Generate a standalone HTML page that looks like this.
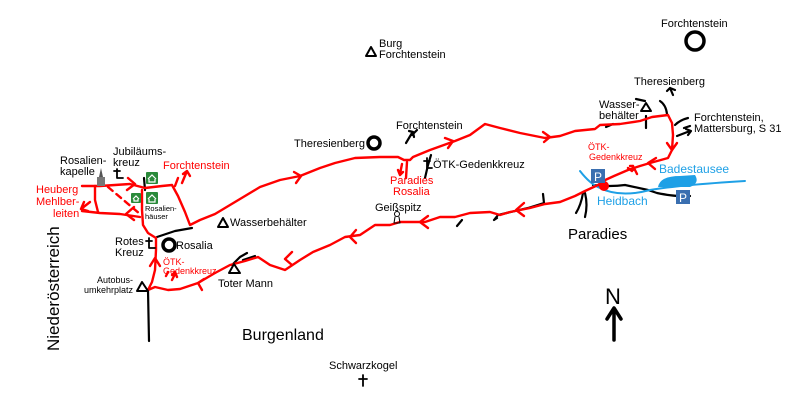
<!DOCTYPE html>
<html><head><meta charset="utf-8"><style>
body{margin:0;background:#fff}
svg{display:block}
text{font-family:"Liberation Sans",sans-serif;font-size:11px;fill:#000}
.r{fill:#f00}.b{fill:#1ea0e6}
</style></head><body>
<svg width="800" height="407" viewBox="0 0 800 407" xmlns="http://www.w3.org/2000/svg">
<g fill="none" stroke-linecap="round" stroke-linejoin="round">
<g stroke="#000" stroke-width="2.2">
<path d="M148 290 L149 341"/>
<path d="M157 237 L175 231 L192 228"/>
<path d="M144 178 L145 190"/>
<path d="M431 155 L428 165 L425 178"/>
<path d="M636 99 L645 101"/>
<path d="M660 101 Q666 105 667 114"/>
<path d="M646 116 L646 128"/>
<path d="M675 125 Q680 120 688 118"/>
<path d="M593 185 Q610 187 625 185 L648 190 L657 193 Q672 196 680 196 L690 196"/>
<path d="M583 193 Q581 205 576 213"/>
<path d="M585 193 Q588 205 585 217"/>
<path d="M543 194 L544 203 L528 208 L498 215 L494 220 L497 218"/>
<path d="M457 226 L462 220"/>
<path d="M232 265 L240 257 L247 253"/>
<path d="M243 260 L255 256"/>
<path d="M417 130 L412 135"/>
<path d="M684 128 L690 126"/>
</g>
<g stroke="#000" stroke-width="2.2">
<path d="M406 143 L412 133 M409 131 L413 132 L414 137"/>
<path d="M673 95 L670 88 L667 91 M670 88 L675 90"/>
<path d="M677 136 L690 131 M686 129 L691 131 L688 135"/>
<path d="M606 127 L613 124"/>
</g>
<g stroke="#1ea0e6" stroke-width="2">
<path d="M580 171 Q590 184 600 188 Q620 198 650 190 Q680 185 745 181"/>
</g>
<path d="M658 187 Q660 176 680 176 L695 175 Q700 183 690 187 Z" fill="#1ea0e6"/>
<g stroke="#f00" stroke-width="2.4">
<path d="M82 186 L100 186 L130 184 L145 188 L162 186 L172 185 L178 196 L185 212 L190 225 L200 220 L215 214 L230 205 L245 196 L260 187 L280 180 L300 176 L320 168 L335 163 L355 158 L380 157 L398 157 L404 160 L410 160 L413 157 L430 150 L455 141 L470 135 L485 124 L500 128 L520 133 L545 138 L560 136 L575 131 L595 129 L600 125 L620 124 L640 121 L652 117 L668 115 L672 123 L673 135 L672 150 L668 158 L650 163 L640 166 L628 170 L614 176 L603 181 L598 185 L585 191 L575 196 L560 202 L545 204 L530 208 L510 212 L500 215 L490 212 L470 213 L455 217 L440 217 L425 222 L400 222 L390 225 L375 225 L360 235 L345 237 L330 245 L313 252 L300 260 L285 270 L270 265 L258 257 L245 261 L230 265 L215 273 L198 283 L180 289 L168 290 L155 287 L148 290 L152 282 L155 270 L156 250 L156 238 L148 233 L143 225 L142 210 L142 190"/>
<path d="M82 211 L100 213 L120 214 L140 217"/>
<path d="M95 186 L95 200 L98 212"/>
<path d="M108 187 L140 214" stroke-dasharray="6 5"/>
<path d="M175 186 L178 178 M182 183 L187 171 M183 174 L187 171 L190 176"/>
<path d="M166 276 L168 272 M172 280 L175 274 M172 275 L175 272 L177 277"/>
<path d="M81 209 L90 202 M84 202 L81 209 L88 211" />
<path d="M400 174 L402 164 M406 178 L407 162 M398 170 L400 175 L403 172"/>
<path d="M632 171 L628 168 M637 174 L633 166 M630 166 L633 166 L633 170"/>
<path d="M128 178 L135 184 L127 190"/>
<path d="M134 207 L126 214 L134 220"/>
<path d="M294 172 L301 176 L296 183"/>
<path d="M445 138 L453 141 L448 148"/>
<path d="M543 132 L550 137 L544 142"/>
<path d="M667 143 L672 150 L677 143"/>
<path d="M656 158 L648 163 L655 169"/>
<path d="M524 203 L516 210 L524 216"/>
<path d="M428 216 L420 222 L428 228"/>
<path d="M356 230 L350 237 L356 243"/>
<path d="M292 252 L285 259 L292 265"/>
<path d="M204 279 L198 283 L202 290"/>
<path d="M150 266 L155 258 L160 266"/>
</g>
<circle cx="604" cy="186" r="5" fill="#f00" stroke="none"/>
<g stroke="#000" stroke-width="3.5">
<circle cx="169" cy="245" r="6"/>
<circle cx="374" cy="143" r="6"/>
<circle cx="695" cy="41" r="9"/>
</g>
<g stroke="#000" stroke-width="2">
<path d="M366 56 L371 47 L376 56 Z"/>
<path d="M218 227 L223 218 L228 227 Z"/>
<path d="M229 273 L234 264 L240 273 Z"/>
<path d="M137 291 L142 282 L148 291 Z"/>
<path d="M641 111 L646 103 L651 111 Z"/>
</g>
<g stroke="#000" stroke-width="1.8">
<path d="M117 169 L117 178 L123 178 M114 171 L120 171"/>
<path d="M149 238 L149 248 L155 248 M146 241 L152 241"/>
<path d="M427 158 L427 168 L432 168 M424 161 L430 161"/>
<path d="M363 375 L363 386 M359 379 L367 379"/>
</g>
<circle cx="397" cy="214" r="2.5" stroke="#000" stroke-width="1"/>
<path d="M395 217 L394 223 L400 223 L399 217" stroke="#000" stroke-width="1"/>
<path d="M614 340 L614 310 M607 319 L614 308 L621 319" stroke="#000" stroke-width="3.5"/>
</g>
<rect x="97" y="177" width="8" height="9" fill="#777"/>
<path d="M99 177 L101 168 L103 177 Z" fill="#555"/>
<g fill="#2a8a3a"><rect x="146" y="172" width="12" height="12" rx="1"/><rect x="131" y="193" width="10" height="10" rx="1"/><rect x="146" y="192" width="12" height="12" rx="1"/></g>
<g stroke="#fff" stroke-width="1.2" fill="none"><path d="M148 179 L152 175 L156 179 M149 179 L149 182 L155 182 L155 179"/><path d="M133 199 L136 196 L139 199 M134 199 L134 201 L138 201 L138 199"/><path d="M148 199 L152 195 L156 199 M149 199 L149 202 L155 202 L155 199"/></g>
<rect x="591" y="169" width="14" height="14" fill="#3a6fb0"/><text x="594" y="181" style="fill:#fff;font-size:12px">P</text>
<rect x="676" y="190" width="14" height="14" fill="#3a6fb0"/><text x="679" y="202" style="fill:#fff;font-size:12px">P</text>
<text x="379" y="47">Burg</text><text x="379" y="58">Forchtenstein</text>
<text x="661" y="27">Forchtenstein</text>
<text x="634" y="85">Theresienberg</text>
<text x="599" y="108">Wasser-</text><text x="599" y="119">behälter</text>
<text x="694" y="121">Forchtenstein,</text><text x="694" y="132">Mattersburg, S 31</text>
<text x="396" y="129">Forchtenstein</text>
<text x="294" y="147">Theresienberg</text>
<text x="433" y="168">ÖTK-Gedenkkreuz</text>
<text class="r" x="390" y="184">Paradies</text><text class="r" x="393" y="195">Rosalia</text>
<text x="375" y="211">Geißspitz</text>
<text x="230" y="226">Wasserbehälter</text>
<text x="176" y="249">Rosalia</text>
<text x="115" y="245">Rotes</text><text x="115" y="256">Kreuz</text>
<text class="r" x="163" y="265" style="font-size:9px">ÖTK-</text><text class="r" x="163" y="274" style="font-size:9px">Gedenkkreuz</text>
<text x="218" y="287">Toter Mann</text>
<text x="97" y="283" style="font-size:9px">Autobus-</text><text x="84" y="293" style="font-size:9px">umkehrplatz</text>
<text x="60" y="164">Rosalien-</text><text x="60" y="175">kapelle</text>
<text x="113" y="155">Jubiläums-</text><text x="113" y="166">kreuz</text>
<text class="r" x="163" y="169">Forchtenstein</text>
<text class="r" x="36" y="193">Heuberg</text><text class="r" x="36" y="205">Mehlber-</text><text class="r" x="53" y="217">leiten</text>
<text x="145" y="211" style="font-size:7.5px">Rosalien-</text><text x="145" y="219" style="font-size:7.5px">häuser</text>
<text class="r" x="588" y="150" style="font-size:9px">ÖTK-</text><text class="r" x="589" y="160" style="font-size:9px">Gedenkkreuz</text>
<text class="b" x="659" y="173" style="font-size:12px">Badestausee</text>
<text class="b" x="597" y="205" style="font-size:12px">Heidbach</text>
<text x="568" y="239" style="font-size:15px">Paradies</text>
<text x="242" y="340" style="font-size:16px">Burgenland</text>
<text x="329" y="369">Schwarzkogel</text>
<text x="605" y="304" style="font-size:22px">N</text>
<text x="0" y="0" transform="translate(59,351) rotate(-90)" style="font-size:17px">Niederösterreich</text>
</svg>
</body></html>
